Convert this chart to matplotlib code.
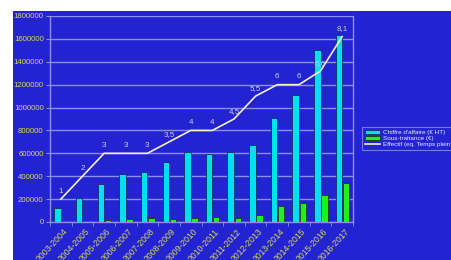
import matplotlib
matplotlib.use("Agg")
import matplotlib.pyplot as plt
from matplotlib.patches import Rectangle
import numpy as np

plt.rcParams["font.family"] = ["Liberation Sans", "DejaVu Sans"]

categories = ["2003-2004", "2004-2005", "2005-2006", "2006-2007", "2007-2008",
              "2008-2009", "2009-2010", "2010-2011", "2011-2012", "2012-2013",
              "2013-2014", "2014-2015", "2015-2016", "2016-2017"]
chiffre = [125000, 210000, 330000, 420000, 440000, 520000, 612000, 598000,
           610000, 672000, 910000, 1110000, 1500000, 1635000]
sous_traitance = [2000, 2000, 16000, 26000, 32000, 30000, 35000, 41000,
                  37000, 64000, 142000, 168000, 238000, 338000]
effectif = [1, 2, 3, 3, 3, 3.5, 4, 4, 4.5, 5.5, 6, 6, 6.6, 8.1]
effectif_labels = ["1", "2", "3", "3", "3", "3,5", "4", "4", "4,5", "5,5", "6", "6", "6,6", "8,1"]
yticks = list(range(0, 1800001, 200000))

W, H = 451, 260
fig = plt.figure(figsize=(W/100, H/100), dpi=100)
fig.patch.set_facecolor("white")
bg = "#2323d2"
fig.patches.append(Rectangle((13/W, 0), 1 - 13/W, 1 - 11/H, transform=fig.transFigure,
                             facecolor=bg, edgecolor="none", zorder=-10))

ax = fig.add_axes([50/W, (H-222)/H, (353-50)/W, (222-16)/H])
ax.set_facecolor(bg)
grid_c = "#8e8ef0"
yellow = "#d8d860"

x = np.arange(len(categories))
bw = 0.3
ax.bar(x - bw/2, chiffre, width=bw, color="#00e0f0", edgecolor="#103060", linewidth=0.6,
       label="Chiffre d'affaire (€ HT)", zorder=3)
ax.bar(x + bw/2 + 0.03, sous_traitance, width=bw, color="#20f020", edgecolor="#104010", linewidth=0.6,
       label="Sous-traitance (€)", zorder=3)

ax.set_xlim(-0.5, len(categories) - 0.5)
ax.set_ylim(0, 1800000)
ax.set_yticks(yticks)
ax.set_yticklabels([str(v) for v in yticks])
ax.yaxis.grid(True, color=grid_c, linewidth=1.0, zorder=1)
ax.set_axisbelow(True)
ax.set_xticks(x + 0.1)
ax.set_xticklabels(categories, rotation=47, ha="right", va="top", rotation_mode="anchor")
ax.set_xticks(np.arange(-0.5, len(categories)), minor=True)
ax.tick_params(axis="x", which="major", length=0, colors=yellow, labelsize=6.2, pad=3.5)
ax.tick_params(axis="x", which="minor", length=3, color=grid_c)
ax.tick_params(axis="y", length=3, color=grid_c, colors=yellow, labelsize=5.6, pad=1.5)
for t in ax.get_yticklabels() + ax.get_xticklabels():
    t.set_color(yellow)
for s in ax.spines.values():
    s.set_color(grid_c)
    s.set_linewidth(1.0)
ax.spines["top"].set_visible(False)

ax2 = ax.twinx()
ax2.set_ylim(0, 9)
ax2.set_axis_off()
line, = ax2.plot(x, effectif, color="#f4f0d0", linewidth=1.2, zorder=5,
                 label="Effectif (eq. Temps plein)")
for xi, yi, lab in zip(x, effectif, effectif_labels):
    ax2.annotate(lab, (xi, yi), xytext=(0, 3), textcoords="offset points",
                 ha="center", va="bottom", fontsize=5.8, color="#c8c8f0", zorder=6)

h1, l1 = ax.get_legend_handles_labels()
leg = fig.legend(h1 + [line], l1 + [line.get_label()], loc="upper left",
                 bbox_to_anchor=(362/W, 1 - 127/H), bbox_transform=fig.transFigure,
                 fontsize=4.6, frameon=True, fancybox=False, borderpad=0.45, borderaxespad=0,
                 labelspacing=0.15, handlelength=2.35, handleheight=0.5, handletextpad=0.45)
leg.get_frame().set_facecolor(bg)
leg.get_frame().set_edgecolor(grid_c)
leg.get_frame().set_linewidth(0.8)
for t in leg.get_texts():
    t.set_color("#e8e8ff")

fig.savefig("out.png", dpi=100, facecolor=fig.get_facecolor())
